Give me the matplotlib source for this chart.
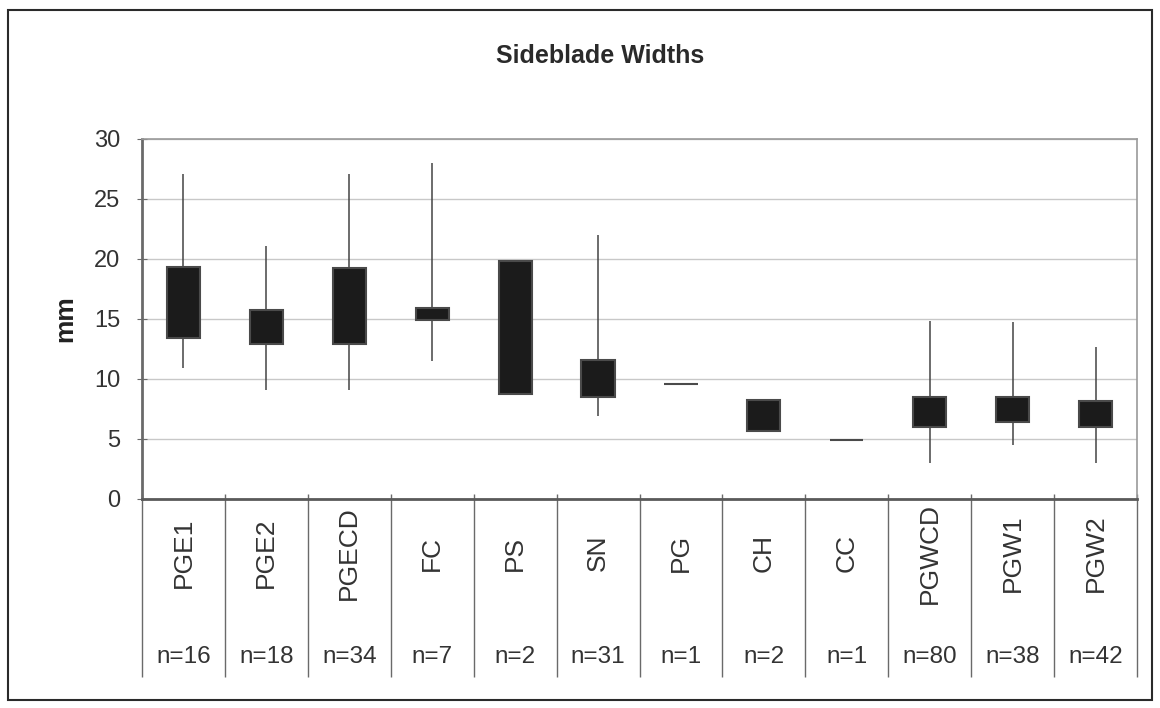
import matplotlib
matplotlib.use("Agg")
import matplotlib.pyplot as plt
from matplotlib.patches import Rectangle

plt.rcParams['font.family'] = ['Liberation Sans', 'DejaVu Sans']

# data (mm)
categories = ['PGE1', 'PGE2', 'PGECD', 'FC', 'PS', 'SN', 'PG', 'CH', 'CC', 'PGWCD', 'PGW1', 'PGW2']
n_counts = [16, 18, 34, 7, 2, 31, 1, 2, 1, 80, 38, 42]
low = [10.9, 9.1, 9.1, 11.5, 8.75, 6.9, 9.6, 5.67, 4.9, 3.0, 4.5, 3.0]
high = [27.1, 21.1, 27.1, 28.0, 19.8, 22.0, 9.6, 8.25, 4.9, 14.8, 14.75, 12.7]
box_low = [13.4, 12.9, 12.9, 14.9, 8.75, 8.5, 9.6, 5.67, 4.9, 6.0, 6.45, 6.0]
box_high = [19.3, 15.75, 19.25, 15.9, 19.8, 11.6, 9.6, 8.25, 4.9, 8.5, 8.5, 8.15]

fig = plt.figure(figsize=(11.6, 7.08), dpi=100)
ax = fig.add_axes([0.1224, 0.2952, 0.8578, 0.5085])

x = list(range(len(categories)))

# whiskers
ax.vlines(x, low, high, color='#444444', linewidth=1.1, zorder=2)

# boxes
heights = [h - l for h, l in zip(box_high, box_low)]
ax.bar(x, heights, bottom=box_low, width=0.4, color='#1b1b1b',
       edgecolor='#4a4a4a', linewidth=1.5, zorder=3)

ax.set_xlim(-0.5, len(categories) - 0.5)
ax.set_ylim(0, 30)
ax.set_yticks([0, 5, 10, 15, 20, 25, 30])
ax.yaxis.grid(True, color='#c8c8c8', linewidth=1)
ax.set_axisbelow(True)
ax.tick_params(axis='y', direction='inout', length=7, color='#6a6a6a',
               labelsize=17, pad=12, labelcolor='#333333')
ax.set_xticks([])

for side in ['top', 'right']:
    ax.spines[side].set_color('#9a9a9a')
    ax.spines[side].set_linewidth(1.2)
ax.spines['left'].set_color('#6a6a6a')
ax.spines['left'].set_linewidth(2)
ax.spines['bottom'].set_color('#5a5a5a')
ax.spines['bottom'].set_linewidth(2)

# category separators running down through the label area
bounds = [i - 0.5 for i in range(len(categories) + 1)]
ax.vlines(bounds, -0.494, 0.015, transform=ax.get_xaxis_transform(),
          color='#6a6a6a', linewidth=1, clip_on=False)

for i, (cat, n) in enumerate(zip(categories, n_counts)):
    ax.text(i, -0.15, cat, transform=ax.get_xaxis_transform(),
            rotation=90, ha='center', va='center', fontsize=19, color='#333333')
    ax.text(i, -0.44, f'n={n}', transform=ax.get_xaxis_transform(),
            ha='center', va='center', fontsize=17.5, color='#333333')

ax.set_ylabel('mm', fontsize=19, fontweight='bold', labelpad=12, color='#222222')
fig.text(0.517, 0.921, 'Sideblade Widths', ha='center', va='center',
         fontsize=18, fontweight='bold', color='#2a2a2a')

# outer chart border
fig.add_artist(Rectangle((8 / 1160, 8 / 708), 1144 / 1160, 690 / 708,
                         transform=fig.transFigure, fill=False,
                         edgecolor='#2a2a2a', linewidth=1.5))

fig.savefig('out.png', dpi=100)
